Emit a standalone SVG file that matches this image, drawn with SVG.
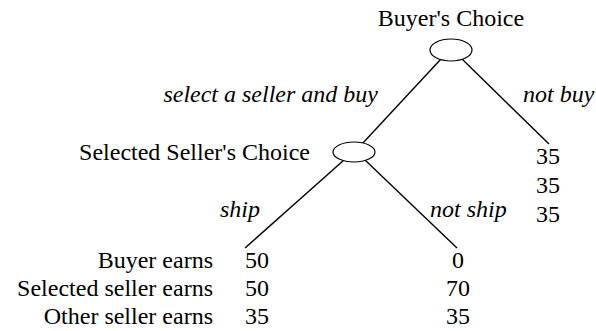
<svg xmlns="http://www.w3.org/2000/svg" width="596" height="331" viewBox="0 0 596 331">
<style>
.node{fill:#fff;stroke:#000;stroke-width:1.2}
.edge{stroke:#000;stroke-width:1.4;fill:none}
</style>
<rect width="596" height="331" fill="#fff"/>
<g id="connectors">
<line class="edge" x1="441" y1="59" x2="362" y2="144"/>
<line class="edge" x1="462" y1="59" x2="549" y2="144"/>
<line class="edge" x1="344" y1="160" x2="245" y2="248"/>
<line class="edge" x1="365" y1="160" x2="457" y2="248"/>
<text font-family="Liberation Serif, Times New Roman, serif" font-size="24" font-style="italic" text-anchor="end" x="378" y="102">select a seller and buy</text>
<text font-family="Liberation Serif, Times New Roman, serif" font-size="24" font-style="italic" x="523" y="102">not buy</text>
<text font-family="Liberation Serif, Times New Roman, serif" font-size="24" font-style="italic" x="220" y="217">ship</text>
<text font-family="Liberation Serif, Times New Roman, serif" font-size="24" font-style="italic" x="430" y="217">not ship</text>
</g>
<g id="buyer-choice">
<text font-family="Liberation Serif, Times New Roman, serif" font-size="24" text-anchor="middle" x="451" y="26">Buyer's Choice</text>
<ellipse class="node" cx="451" cy="50" rx="21" ry="11"/>
</g>
<g id="seller-choice">
<text font-family="Liberation Serif, Times New Roman, serif" font-size="24" text-anchor="end" x="310" y="160">Selected Seller's Choice</text>
<ellipse class="node" cx="354" cy="152" rx="21" ry="10"/>
</g>
<g id="not-buy-payoff">
<text font-family="Liberation Serif, Times New Roman, serif" font-size="24" text-anchor="middle" x="548" y="164">35</text>
<text font-family="Liberation Serif, Times New Roman, serif" font-size="24" text-anchor="middle" x="548" y="193">35</text>
<text font-family="Liberation Serif, Times New Roman, serif" font-size="24" text-anchor="middle" x="548" y="222">35</text>
</g>
<g id="labels">
<text font-family="Liberation Serif, Times New Roman, serif" font-size="24" text-anchor="end" x="213" y="268">Buyer earns</text>
<text font-family="Liberation Serif, Times New Roman, serif" font-size="24" text-anchor="end" x="213" y="296">Selected seller earns</text>
<text font-family="Liberation Serif, Times New Roman, serif" font-size="24" text-anchor="end" x="213" y="324">Other seller earns</text>
</g>
<g id="ship-payoff">
<text font-family="Liberation Serif, Times New Roman, serif" font-size="24" text-anchor="middle" x="257" y="268">50</text>
<text font-family="Liberation Serif, Times New Roman, serif" font-size="24" text-anchor="middle" x="257" y="296">50</text>
<text font-family="Liberation Serif, Times New Roman, serif" font-size="24" text-anchor="middle" x="257" y="324">35</text>
</g>
<g id="not-ship-payoff">
<text font-family="Liberation Serif, Times New Roman, serif" font-size="24" text-anchor="middle" x="458" y="268">0</text>
<text font-family="Liberation Serif, Times New Roman, serif" font-size="24" text-anchor="middle" x="458" y="296">70</text>
<text font-family="Liberation Serif, Times New Roman, serif" font-size="24" text-anchor="middle" x="458" y="324">35</text>
</g>
</svg>
